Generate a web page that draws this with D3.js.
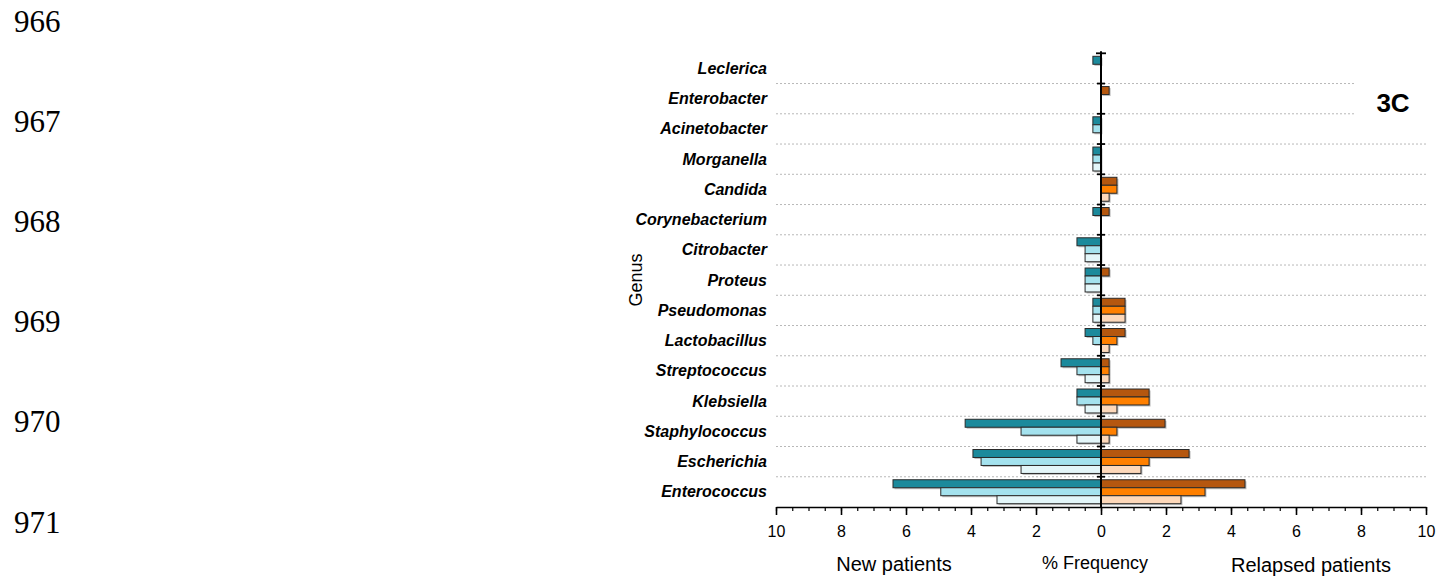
<!DOCTYPE html>
<html lang="en">
<head>
    <meta charset="UTF-8">
    <title>Genus frequency - new vs relapsed patients</title>
    <script src="https://d3js.org/d3.v7.min.js"></script>
    <style>
        body { margin: 0; background: #fff; }
        svg { display: block; }
        .axis text { font-family: "Liberation Sans", Arial, sans-serif; font-size: 16px; fill: #000; }
        .axis path, .axis line { stroke: #000; }
        .genus { font-family: "Liberation Sans", Arial, sans-serif; font-size: 16px; font-weight: bold; font-style: italic; }
        .lineno { font-family: "Liberation Serif", "Times New Roman", serif; font-size: 31px; }
    </style>
</head>
<body>
<script>
    // Genera, top to bottom
    const genera = ['Leclerica', 'Enterobacter', 'Acinetobacter', 'Morganella', 'Candida',
        'Corynebacterium', 'Citrobacter', 'Proteus', 'Pseudomonas', 'Lactobacillus',
        'Streptococcus', 'Klebsiella', 'Staphylococcus', 'Escherichia', 'Enterococcus'];

    // % frequency, new patients (three series, dark -> light)
    const newDark  = [0.25, 0, 0.25, 0.25, 0, 0.25, 0.74, 0.49, 0.25, 0.49, 1.23, 0.74, 4.18, 3.94, 6.40];
    const newMid   = [0, 0, 0.25, 0.25, 0, 0, 0.49, 0.49, 0.25, 0.25, 0.74, 0.74, 2.46, 3.69, 4.93];
    const newLight = [0, 0, 0, 0.25, 0, 0, 0.49, 0.49, 0.25, 0, 0.49, 0.49, 0.74, 2.46, 3.20];

    // % frequency, relapsed patients (three series, dark -> light)
    const relDark  = [0, 0.25, 0, 0, 0.49, 0.25, 0, 0.25, 0.74, 0.74, 0.25, 1.48, 1.97, 2.71, 4.43];
    const relMid   = [0, 0, 0, 0, 0.49, 0, 0, 0, 0.74, 0.49, 0.25, 1.48, 0.49, 1.48, 3.20];
    const relLight = [0, 0, 0, 0, 0.25, 0, 0, 0, 0.74, 0.25, 0.25, 0.49, 0.25, 1.23, 2.46];

    const xTicks = [-10, -8, -6, -4, -2, 0, 2, 4, 6, 8, 10];
    const lineNumbers = ['966', '967', '968', '969', '970', '971'];

    const width = 1441, height = 577;
    const svg = d3.select('body').append('svg')
        .attr('width', width)
        .attr('height', height);

    // margin line numbers
    svg.selectAll('.lineno')
        .data(lineNumbers)
        .enter().append('text')
        .attr('class', 'lineno')
        .attr('x', 14)
        .attr('y', (d, i) => 32 + i * 100.1)
        .text(d => d);

    const plot = { left: 776, right: 1426, top: 53.3, bottom: 507 };

    const x = d3.scaleLinear().domain([-10, 10]).range([plot.left, plot.right]);
    const y = d3.scaleBand().domain(genera).range([plot.top, plot.bottom]);
    const inner = d3.scaleBand().domain([0, 1, 2]).range([3, y.bandwidth() - 3.3]);

    // dotted separators between genera
    svg.append('g')
        .selectAll('line')
        .data(genera.slice(1))
        .enter().append('line')
        .attr('x1', plot.left)
        .attr('x2', plot.right)
        .attr('y1', d => y(d))
        .attr('y2', d => y(d))
        .attr('stroke', '#b8b8b8')
        .attr('stroke-width', 1)
        .attr('stroke-dasharray', '2,2');

    // series set-up
    const newColors = ['#1c8a9c', '#a4e2ee', '#e3f6f9'];
    const relColors = ['#b5570f', '#ff8000', '#fdd8ba'];
    const series = [];
    [newDark, newMid, newLight].forEach((arr, k) => {
        arr.forEach((v, i) => series.push({ genus: genera[i], k: k, v: -v, color: newColors[k] }));
    });
    [relDark, relMid, relLight].forEach((arr, k) => {
        arr.forEach((v, i) => series.push({ genus: genera[i], k: k, v: v, color: relColors[k] }));
    });
    const bars = series.filter(d => d.v !== 0);

    // soft shadow
    svg.append('g')
        .selectAll('rect')
        .data(bars)
        .enter().append('rect')
        .attr('x', d => Math.min(x(0), x(d.v)) + 1.5)
        .attr('y', d => y(d.genus) + inner(d.k) + 1.5)
        .attr('width', d => Math.abs(x(d.v) - x(0)))
        .attr('height', inner.bandwidth())
        .attr('fill', '#8a8a8a')
        .attr('opacity', 0.55);

    svg.append('g')
        .selectAll('.bar')
        .data(bars)
        .enter().append('rect')
        .attr('class', 'bar')
        .attr('x', d => Math.min(x(0), x(d.v)))
        .attr('y', d => y(d.genus) + inner(d.k))
        .attr('width', d => Math.abs(x(d.v) - x(0)))
        .attr('height', inner.bandwidth())
        .attr('fill', d => d.color)
        .attr('stroke', '#2a2a2a')
        .attr('stroke-width', 1);

    // bottom axis, major + minor ticks
    svg.append('g')
        .attr('class', 'axis')
        .attr('transform', `translate(0, ${plot.bottom})`)
        .call(d3.axisBottom(x).tickValues(d3.range(-10, 10.01, 0.5)).tickSize(4).tickFormat(''))
        .call(g => g.select('.domain').remove())
        .selectAll('line').attr('stroke-width', 1.2);

    const xAxis = svg.append('g')
        .attr('class', 'axis')
        .attr('transform', `translate(0, ${plot.bottom})`)
        .call(d3.axisBottom(x).tickValues(xTicks).tickSize(8).tickSizeOuter(0)
            .tickFormat(d => Math.abs(d)));
    xAxis.select('.domain').attr('stroke-width', 1.6);
    xAxis.selectAll('.tick line').attr('stroke-width', 1.6);
    xAxis.selectAll('.tick text').attr('y', 19);

    // vertical zero axis with genus boundary ticks
    const zx = x(0);
    svg.append('line')
        .attr('x1', zx).attr('x2', zx)
        .attr('y1', plot.top - 2).attr('y2', plot.bottom)
        .attr('stroke', '#000').attr('stroke-width', 2);
    svg.append('g')
        .selectAll('line')
        .data(genera)
        .enter().append('line')
        .attr('x1', (d, i) => zx - (i === 0 ? 5 : 4))
        .attr('x2', (d, i) => zx + (i === 0 ? 5 : 4))
        .attr('y1', d => y(d))
        .attr('y2', d => y(d))
        .attr('stroke', '#000').attr('stroke-width', 1.8);

    // genus labels
    svg.append('g')
        .selectAll('.genus')
        .data(genera)
        .enter().append('text')
        .attr('class', 'genus')
        .attr('x', 767)
        .attr('y', d => y(d) + y.bandwidth() / 2 + 5.5)
        .attr('text-anchor', 'end')
        .text(d => d);

    // panel tag
    svg.append('rect')
        .attr('x', 1356).attr('y', 76).attr('width', 72).attr('height', 46)
        .attr('fill', '#fff');
    svg.append('text')
        .attr('x', 1393).attr('y', 111.5)
        .attr('text-anchor', 'middle')
        .style('font-family', '"Liberation Sans", Arial, sans-serif')
        .style('font-size', '26px')
        .style('font-weight', 'bold')
        .text('3C');

    // titles
    svg.append('text')
        .attr('transform', 'rotate(-90)')
        .attr('x', -280)
        .attr('y', 642)
        .attr('text-anchor', 'middle')
        .style('font-family', '"Liberation Sans", Arial, sans-serif')
        .style('font-size', '18px')
        .text('Genus');

    svg.append('text')
        .attr('x', 894).attr('y', 571)
        .attr('text-anchor', 'middle')
        .style('font-family', '"Liberation Sans", Arial, sans-serif')
        .style('font-size', '20px')
        .text('New patients');

    svg.append('text')
        .attr('x', 1095).attr('y', 569)
        .attr('text-anchor', 'middle')
        .style('font-family', '"Liberation Sans", Arial, sans-serif')
        .style('font-size', '18px')
        .text('% Frequency');

    svg.append('text')
        .attr('x', 1311).attr('y', 572)
        .attr('text-anchor', 'middle')
        .style('font-family', '"Liberation Sans", Arial, sans-serif')
        .style('font-size', '20px')
        .text('Relapsed patients');
</script>
</body>
</html>
